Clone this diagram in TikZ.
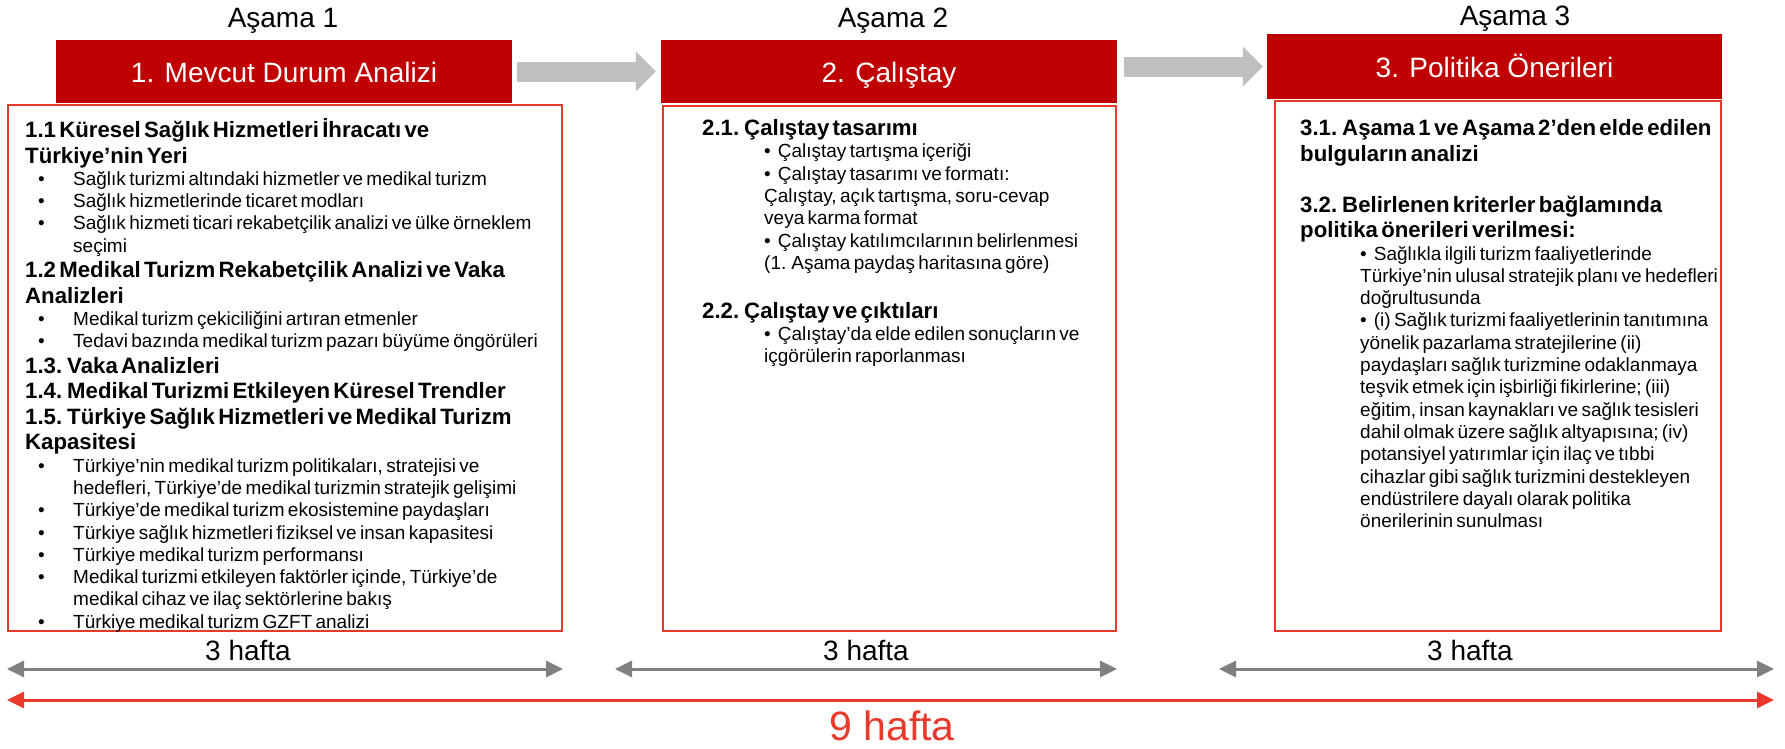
\documentclass[tikz,border=0pt]{standalone}
\usepackage{fontspec}
\setmainfont{Liberation Sans}[BoldFont={Liberation Sans Bold}]
\usetikzlibrary{arrows.meta}
\definecolor{hdrred}{HTML}{C00000}
\definecolor{boxred}{HTML}{E8392B}
\definecolor{flowgray}{HTML}{BFBFBF}
\definecolor{spangray}{HTML}{808080}
% text lines in the panels
\newcommand{\hdline}[1]{{\fontsize{22.2}{25.5}\selectfont\bfseries #1\par}}
\newcommand{\bitem}[1]{{\fontsize{19}{22.3}\selectfont\leftskip=48pt\noindent\hspace*{-35pt}\makebox[35pt][l]{•}#1\par}}
\newcommand{\sitem}[2]{{\fontsize{19}{22.3}\selectfont\leftskip=#1\noindent•\hspace{7pt}#2\par}}

\begin{document}
\begin{tikzpicture}[%
      x=1pt, y=-1pt,
      hdr/.style={rectangle,fill=hdrred,text=white,inner sep=0pt,minimum width=456pt,minimum height=63pt,text height=22pt,text depth=0pt,font=\fontsize{28}{32}\selectfont},
      panel/.style={rectangle,draw=boxred,line width=2.5pt,inner sep=0pt},
      phase/.style={anchor=base,inner sep=0pt,font=\fontsize{28}{32}\selectfont},
      txt/.style={anchor=base west,inner sep=0pt,align=left,text width=#1},
      flowarrow/.style={draw=flowgray,line width=20pt,-{Triangle[length=20pt,width=39pt]}},
      spanarrow/.style={draw=spangray,line width=3pt,{Triangle[length=17pt,width=16pt]}-{Triangle[length=17pt,width=16pt]}},
      totalarrow/.style={draw=boxred,line width=3pt,{Triangle[length=17pt,width=16pt]}-{Triangle[length=17pt,width=16pt]}}
      ]
      \useasboundingbox (0,0) rectangle (1785,748);
      % panels
      \draw (285,368) node[panel,minimum width=554pt,minimum height=526pt] (p1) {};
      \draw (889.5,368.5) node[panel,minimum width=453pt,minimum height=525pt] (p2) {};
      \draw (1498,366) node[panel,minimum width=446pt,minimum height=530pt] (p3) {};
      % headers
      \draw (284,71.5) node[hdr] (h1) {1. Mevcut Durum Analizi};
      \draw (889,71.5) node[hdr] (h2) {2. Çalıştay};
      \draw (1494.5,66.5) node[hdr,minimum width=455pt,minimum height=65pt] (h3) {3. Politika Önerileri};
      \draw (283,27) node[phase] (a1) {Aşama 1};
      \draw (893,27) node[phase] (a2) {Aşama 2};
      \draw (1515,25) node[phase] (a3) {Aşama 3};
      \draw[flowarrow] ([xshift=5pt]h1.east) -- ([xshift=-5pt]h2.west);
      \draw[flowarrow] ([xshift=7pt,yshift=5pt]h2.east) -- ([xshift=-4pt]h3.west);
      % panel texts
      \draw (25,137.5) node[txt=540pt] (t1) {%
        \hdline{1.1 Küresel Sağlık Hizmetleri İhracatı ve\\Türkiye’nin Yeri}
        \bitem{Sağlık turizmi altındaki hizmetler ve medikal turizm}
        \bitem{Sağlık hizmetlerinde ticaret modları}
        \bitem{Sağlık hizmeti ticari rekabetçilik analizi ve ülke örneklem\\seçimi}
        \hdline{1.2 Medikal Turizm Rekabetçilik Analizi ve Vaka\\Analizleri}
        \bitem{Medikal turizm çekiciliğini artıran etmenler}
        \bitem{Tedavi bazında medikal turizm pazarı büyüme öngörüleri}
        \hdline{1.3. Vaka Analizleri}
        \hdline{1.4. Medikal Turizmi Etkileyen Küresel Trendler}
        \hdline{1.5. Türkiye Sağlık Hizmetleri ve Medikal Turizm\\Kapasitesi}
        \bitem{Türkiye’nin medikal turizm politikaları, stratejisi ve\\hedefleri, Türkiye’de medikal turizmin stratejik gelişimi}
        \bitem{Türkiye’de medikal turizm ekosistemine paydaşları}
        \bitem{Türkiye sağlık hizmetleri fiziksel ve insan kapasitesi}
        \bitem{Türkiye medikal turizm performansı}
        \bitem{Medikal turizmi etkileyen faktörler içinde, Türkiye’de\\medikal cihaz ve ilaç sektörlerine bakış}
        \bitem{Türkiye medikal turizm GZFT analizi}};
      \draw (702,135.5) node[txt=420pt] (t2) {%
        \hdline{2.1. Çalıştay tasarımı}
        \sitem{62pt}{Çalıştay tartışma içeriği}
        \sitem{62pt}{Çalıştay tasarımı ve formatı:\\Çalıştay, açık tartışma, soru-cevap\\veya karma format}
        \sitem{62pt}{Çalıştay katılımcılarının belirlenmesi\\(1. Aşama paydaş haritasına göre)}
        \vspace{23.5pt}
        \hdline{2.2. Çalıştay ve çıktıları}
        \sitem{62pt}{Çalıştay’da elde edilen sonuçların ve\\içgörülerin raporlanması}};
      \draw (1300,135.7) node[txt=460pt] (t3) {%
        \hdline{3.1. Aşama 1 ve Aşama 2’den elde edilen\\bulguların analizi}
        \vspace{25.5pt}
        \hdline{3.2. Belirlenen kriterler bağlamında\\politika önerileri verilmesi:}
        \sitem{60pt}{Sağlıkla ilgili turizm faaliyetlerinde\\Türkiye’nin ulusal stratejik planı ve hedefleri\\doğrultusunda}
        \sitem{60pt}{(i) Sağlık turizmi faaliyetlerinin tanıtımına\\yönelik pazarlama stratejilerine (ii)\\paydaşları sağlık turizmine odaklanmaya\\teşvik etmek için işbirliği fikirlerine; (iii)\\eğitim, insan kaynakları ve sağlık tesisleri\\dahil olmak üzere sağlık altyapısına; (iv)\\potansiyel yatırımlar için ilaç ve tıbbi\\cihazlar gibi sağlık turizmini destekleyen\\endüstrilere dayalı olarak politika\\önerilerinin sunulması}};
      % durations
      \coordinate (s1a) at (7,669);
      \coordinate (s1b) at (563,669);
      \coordinate (s2a) at (615,669);
      \coordinate (s2b) at (1117,669);
      \coordinate (s3a) at (1219,669);
      \coordinate (s3b) at (1774,669);
      \coordinate (ta) at (7,700);
      \coordinate (tb) at (1774,700);
      \draw[spanarrow] (s1a) -- (s1b);
      \draw[spanarrow] (s2a) -- (s2b);
      \draw[spanarrow] (s3a) -- (s3b);
      \draw[totalarrow] (ta) -- (tb);
      \draw (248,660) node[phase] (w1) {3 hafta};
      \draw (866,660) node[phase] (w2) {3 hafta};
      \draw (1470,660) node[phase] (w3) {3 hafta};
      \draw (892,740) node[phase,text=boxred,font=\fontsize{41}{46}\selectfont] (wt) {9 hafta};
    \end{tikzpicture}
\end{document}
